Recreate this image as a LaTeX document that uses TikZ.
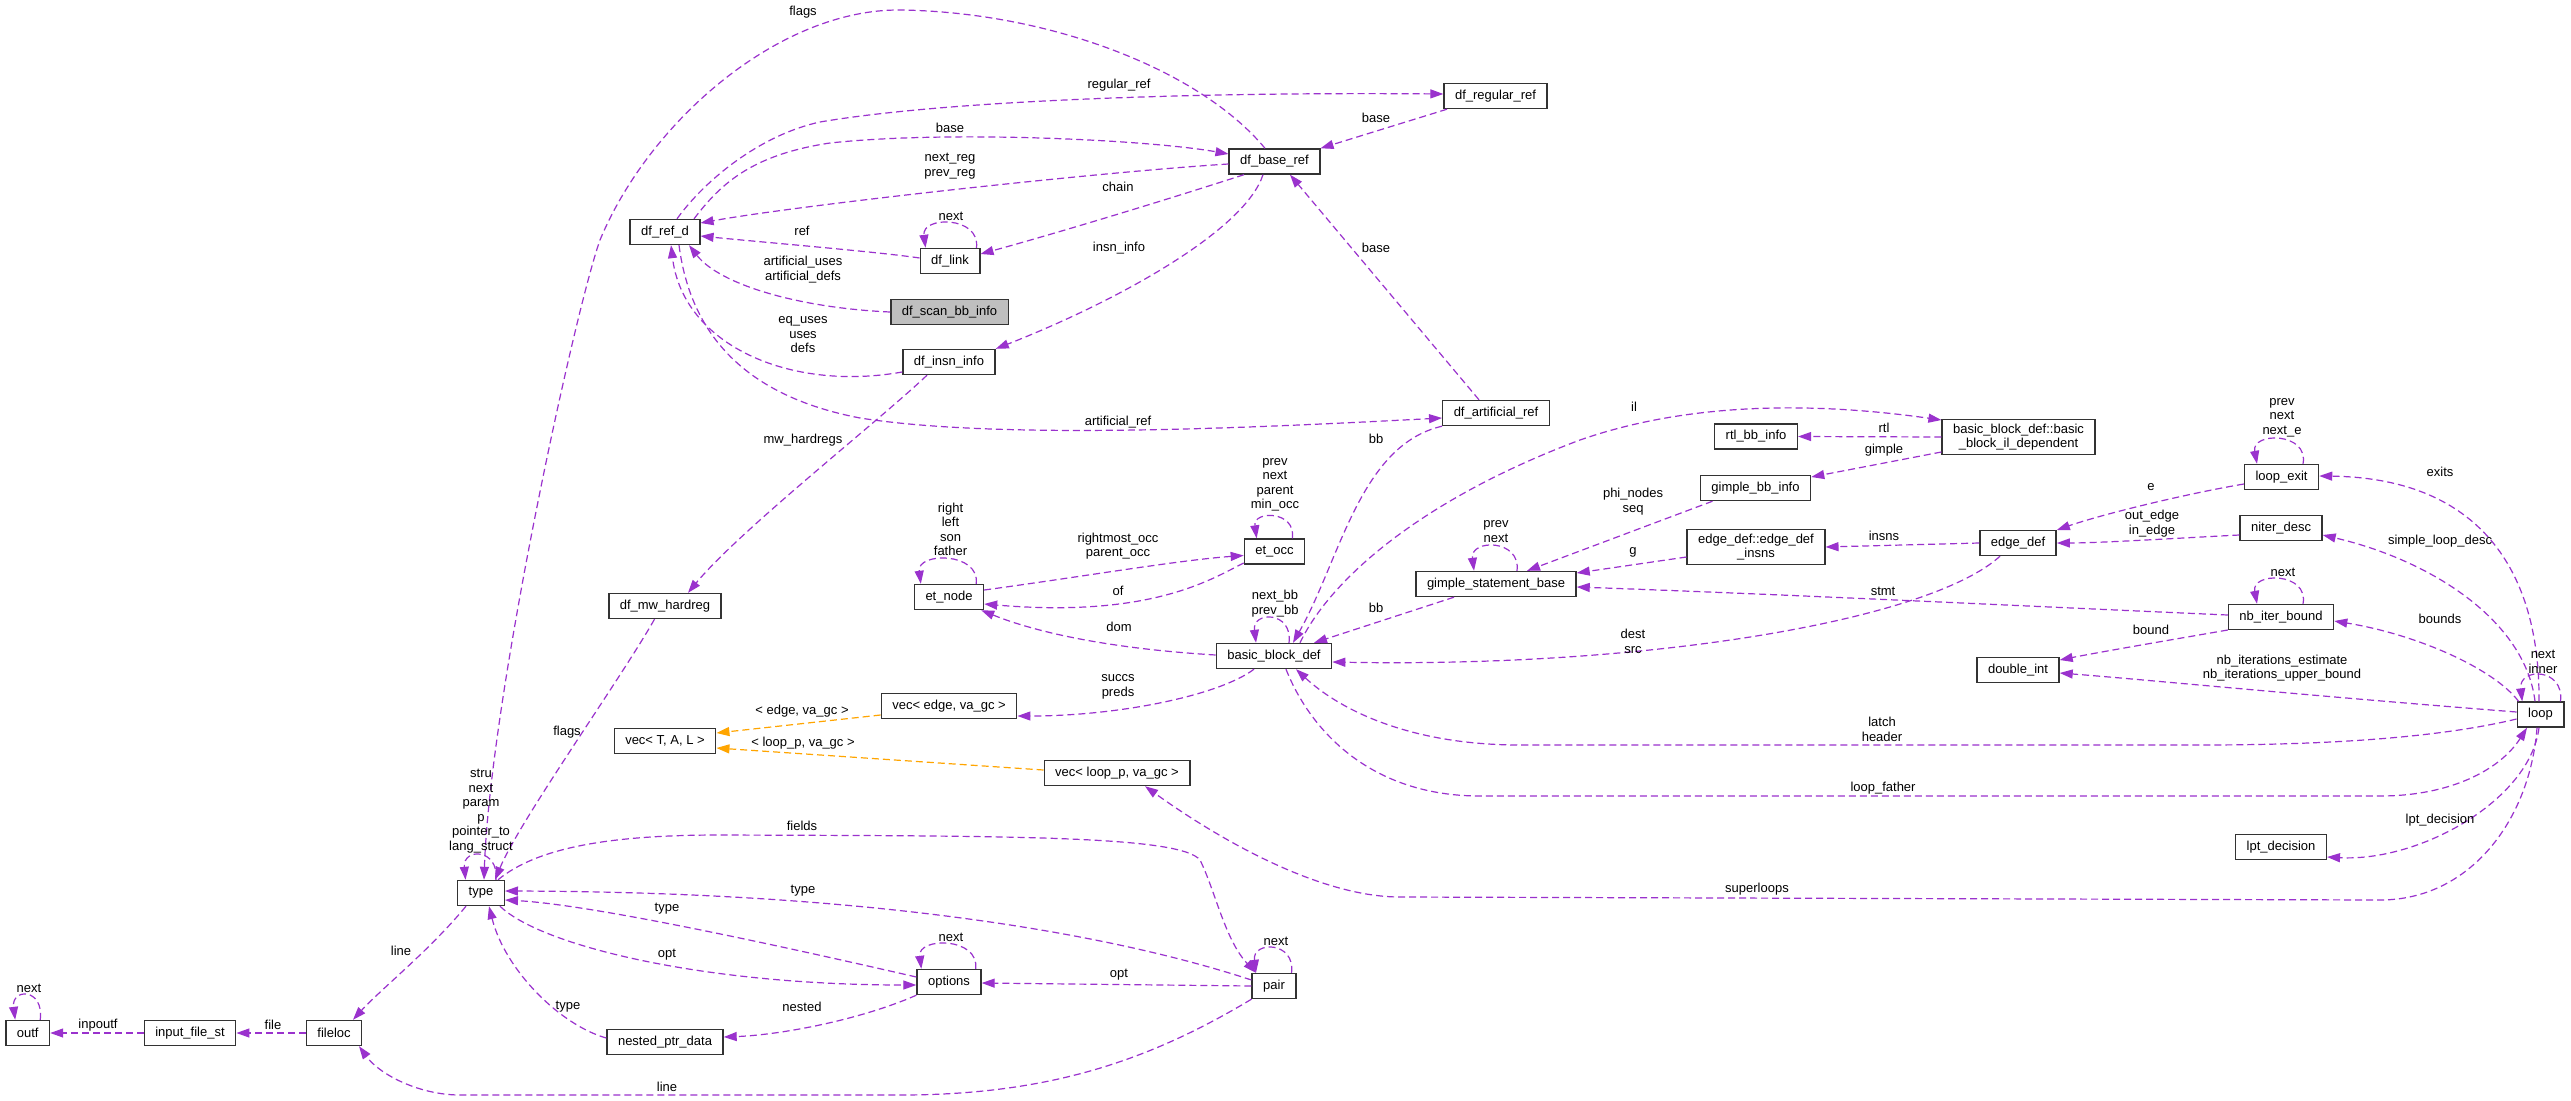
\documentclass[tikz,border=0pt]{standalone}
\usepackage{fontspec}
\setmainfont{Liberation Sans}
\usetikzlibrary{arrows.meta}
\definecolor{edgep}{HTML}{9A32CD}
\definecolor{edgeo}{HTML}{FFA500}
\definecolor{boxd}{HTML}{333333}
\definecolor{rootg}{HTML}{BFBFBF}
\newcommand\lblfont{\fontsize{13}{14.5}\selectfont}
\begin{document}
\begin{tikzpicture}[x=1pt,y=-1pt,
 box/.style={draw=boxd,line width=1.4pt,fill=white,font=\lblfont,inner xsep=11pt,inner ysep=4pt,minimum height=25pt,align=center},
 root/.style={box,fill=rootg},
 lab/.style={font=\lblfont,inner sep=0pt,align=center},
 ed/.style={draw=edgep,line width=1.2pt,dash pattern=on 7pt off 4pt,-{Triangle[length=13pt,width=9pt]}},
 edo/.style={ed,draw=edgeo}]
\fill[white] (0,0) rectangle (2571,1100);
\useasboundingbox (0,0) rectangle (2571,1100);
% nodes
\node[root] (dfscan) at (949.5,312) {df\_scan\_bb\_info};
\node[box] (dfref) at (665,232) {df\_ref\_d};
\node[box] (dflink) at (950,261) {df\_link};
\node[box] (dfbase) at (1274.5,161.5) {df\_base\_ref};
\node[box] (dfregular) at (1495.5,96) {df\_regular\_ref};
\node[box] (dfinsn) at (949,362) {df\_insn\_info};
\node[box] (dfart) at (1496,413) {df\_artificial\_ref};
\node[box] (mwhard) at (665,606) {df\_mw\_hardreg};
\node[box] (etnode) at (949,597) {et\_node};
\node[box] (etocc) at (1274.5,551.5) {et\_occ};
\node[box] (bbdef) at (1274,656) {basic\_block\_def};
\node[box] (vecedge) at (949,706) {vec< edge, va\_gc >};
\node[box] (vectal) at (665,741) {vec< T, A, L >};
\node[box] (vecloop) at (1117,773) {vec< loop\_p, va\_gc >};
\node[box] (type) at (481,893) {type};
\node[box] (outf) at (27.7,1033) {outf};
\node[box] (inputfile) at (190,1033) {input\_file\_st};
\node[box] (fileloc) at (334,1033) {fileloc};
\node[box] (nested) at (665,1042) {nested\_ptr\_data};
\node[box] (options) at (949,982) {options};
\node[box] (pair) at (1274,986) {pair};
\node[box] (gsb) at (1496,584) {gimple\_statement\_base};
\node[box] (rtlbb) at (1756,436.5) {rtl\_bb\_info};
\node[box] (ildep) at (2018.5,437) {basic\_block\_def::basic\\\_block\_il\_dependent};
\node[box] (gimplebb) at (1755.5,488) {gimple\_bb\_info};
\node[box] (edgeinsns) at (1756,547) {edge\_def::edge\_def\\\_insns};
\node[box] (edgedef) at (2018,543) {edge\_def};
\node[box] (doubleint) at (2018,670) {double\_int};
\node[box] (loopexit) at (2281.5,477) {loop\_exit};
\node[box] (niter) at (2281,528) {niter\_desc};
\node[box] (nbiter) at (2281,617) {nb\_iter\_bound};
\node[box] (loop) at (2540.5,714.5) {loop};
\node[box] (lpt) at (2281,847) {lpt\_decision};
% edges
\draw[ed] (dfscan.west) .. controls (800,308) and (720,285) .. ([xshift=24pt]dfref.south);
\draw[ed] ([yshift=-10pt]dfinsn.west) .. controls (790,392) and (683,345) .. ([xshift=6pt]dfref.south);
\draw[ed] ([xshift=14pt]dfref.south) .. controls (690,330) and (740,395) .. (860,418) .. controls (1000,440) and (1250,428) .. ([yshift=-5pt]dfart.west);
\draw[ed] ([yshift=3pt]dflink.west) .. controls (880,252) and (760,242) .. ([yshift=-4pt]dfref.east);
\draw[ed] ([yshift=-2.5pt]dfbase.west) .. controls (1100,172) and (800,205) .. ([yshift=9pt]dfref.east);
\draw[ed] ([xshift=29pt]dfref.north) .. controls (720,185) and (750,155) .. (830,143) .. controls (950,130) and (1150,140) .. ([yshift=7.5pt]dfbase.west);
\draw[ed] ([xshift=12pt]dfref.north) .. controls (705,180) and (760,135) .. (820,122) .. controls (950,100) and (1200,92) .. ([yshift=2pt]dfregular.west);
\draw[ed] ([xshift=-48.5pt]dfregular.south) -- (dfbase.north east);
\draw[ed] ([xshift=-9.5pt]dfbase.north) .. controls (1200,70) and (1050,12) .. (900,10) .. controls (780,9) and (650,120) .. (600,240) .. controls (575,310) and (490,700) .. ([xshift=3pt]type.north);
\draw[ed] ([xshift=-10.5pt]mwhard.south) .. controls (620,680) and (520,820) .. ([xshift=14pt]type.north);
\draw[ed] ([xshift=-22pt]dfinsn.south) .. controls (880,420) and (740,530) .. ([xshift=23pt]mwhard.north);
\draw[ed] ([xshift=-30.5pt]dfbase.south) .. controls (1150,205) and (1050,235) .. ([yshift=7pt]dflink.east);
\draw[ed] ([xshift=-11.5pt]dfbase.south) .. controls (1245,230) and (1120,300) .. (dfinsn.north east);
\draw[ed] ([xshift=-17pt]dfart.north) -- ([xshift=15.5pt]dfbase.south);
\draw[ed] (dfart.south west) .. controls (1360,445) and (1340,560) .. ([xshift=19pt]bbdef.north);
\draw[ed] ([xshift=26pt]bbdef.north) .. controls (1330,580) and (1420,500) .. (1580,440) .. controls (1680,405) and (1800,400) .. ([yshift=17pt]ildep.west);
\draw[ed] (ildep.west) -- (rtlbb.east);
\draw[ed] ([yshift=-15pt]ildep.west) -- ([yshift=11pt]gimplebb.east);
\draw[ed] ([xshift=-43pt]gimplebb.south) -- ([xshift=31pt]gsb.north);
\draw[ed] ([yshift=-10pt]edgeinsns.west) -- ([yshift=11pt]gsb.east);
\draw[ed] ([xshift=-42pt]gsb.south) -- ([xshift=40pt]bbdef.north);
\draw[ed] (edgedef.west) -- (edgeinsns.east);
\draw[ed] ([xshift=-18pt]edgedef.south) .. controls (1930,620) and (1650,668) .. ([yshift=-6pt]bbdef.east);
\draw[ed] ([yshift=-7pt]loopexit.west) .. controls (2180,495) and (2100,515) .. ([yshift=13pt]edgedef.east);
\draw[ed] ([yshift=-7pt]niter.west) .. controls (2180,538) and (2100,543) .. (edgedef.east);
\draw[ed] ([yshift=-13pt]nbiter.west) .. controls (2170,640) and (2100,652) .. ([yshift=10pt]doubleint.east);
\draw[ed] ([yshift=2pt]nbiter.west) .. controls (2000,605) and (1800,595) .. ([yshift=-3pt]gsb.east);
\draw[ed] ([yshift=2.5pt]loop.west) .. controls (2300,695) and (2150,680) .. ([yshift=-3pt]doubleint.east);
\draw[ed] ([yshift=-4.5pt]loop.west) .. controls (2450,735) and (2350,745) .. (2200,745) -- (1520,745) .. controls (1410,745) and (1340,710) .. ([xshift=22pt]bbdef.south);
\draw[ed] ([xshift=12pt]bbdef.south) .. controls (1310,730) and (1370,796) .. (1480,796) -- (2380,796) .. controls (2450,796) and (2500,770) .. ([xshift=-13.5pt]loop.south);
\draw[ed] ([xshift=-3.5pt]loop.south) .. controls (2530,820) and (2470,900) .. (2380,900) -- (1400,897) .. controls (1320,897) and (1220,840) .. ([xshift=28pt]vecloop.south);
\draw[ed] ([xshift=2pt]loop.north west) .. controls (2495,670) and (2420,635) .. ([yshift=-4pt]nbiter.east);
\draw[ed] ([xshift=-5.5pt]loop.north) .. controls (2525,620) and (2430,560) .. ([yshift=-7pt]niter.east);
\draw[ed] ([xshift=-1.5pt]loop.north) .. controls (2540,560) and (2470,478) .. ([yshift=1pt]loopexit.east);
\draw[ed] ([xshift=-1.5pt]loop.south) .. controls (2530,800) and (2420,862) .. ([yshift=-10pt]lpt.east);
\draw[edo] ([yshift=-9pt]vecedge.west) -- ([yshift=8pt]vectal.east);
\draw[edo] ([yshift=3pt]vecloop.west) -- ([yshift=-7pt]vectal.east);
\draw[ed] ([xshift=-20pt]bbdef.south) .. controls (1220,695) and (1120,716) .. ([yshift=-10pt]vecedge.east);
\draw[ed] ([yshift=1pt]bbdef.west) .. controls (1100,648) and (1030,630) .. ([xshift=-3pt]etnode.south east);
\draw[ed] ([yshift=-11.5pt]etocc.west) .. controls (1210,580) and (1150,618) .. ([yshift=-7pt]etnode.east);
\draw[ed] ([yshift=7pt]etnode.east) .. controls (1080,577) and (1180,560) .. ([yshift=-4pt]etocc.west);
\draw[ed] ([xshift=17pt]type.north) .. controls (540,845) and (620,835) .. (720,835) .. controls (1000,836) and (1180,835) .. (1200,860) .. controls (1215,890) and (1225,940) .. ([xshift=-18pt]pair.north);
\draw[ed] ([yshift=6pt]pair.west) .. controls (1130,940) and (900,892) .. ([yshift=2pt]type.east);
\draw[ed] ([yshift=5pt]options.west) .. controls (820,955) and (600,905) .. ([yshift=-7pt]type.east);
\draw[ed] ([xshift=19pt]type.south) .. controls (540,945) and (700,985) .. ([yshift=-3pt]options.west);
\draw[ed] (pair.west) -- ([yshift=-1pt]options.east);
\draw[ed] (options.south west) .. controls (860,1020) and (780,1035) .. ([yshift=5pt]nested.east);
\draw[ed] ([yshift=4pt]nested.west) .. controls (560,1025) and (505,970) .. ([xshift=8pt]type.south);
\draw[ed] ([xshift=-15pt]type.south) .. controls (430,950) and (380,990) .. ([xshift=19pt]fileloc.north);
\draw[ed] (pair.south west) .. controls (1150,1060) and (1050,1095) .. (900,1095) -- (460,1095) .. controls (420,1095) and (380,1075) .. ([xshift=25pt]fileloc.south);
\draw[ed] (fileloc.west) -- (inputfile.east);
\draw[ed] (inputfile.west) -- (outf.east);
% self loops
\draw[ed] ([xshift=-10pt]outf.north east) .. controls +(4,-32) and +(-4,-32) .. ([xshift=10pt]outf.north west);
\draw[ed] ([xshift=-9pt]type.north east) .. controls +(3,-32) and +(-3,-32) .. ([xshift=8.5pt]type.north west);
\draw[ed] ([xshift=-4pt]dflink.north east) .. controls +(4,-32) and +(-4,-32) .. ([xshift=6pt]dflink.north west);
\draw[ed] ([xshift=-8pt]etnode.north east) .. controls +(4,-32) and +(-4,-32) .. ([xshift=7pt]etnode.north west);
\draw[ed] ([xshift=-13pt]etocc.north east) .. controls +(4,-28) and +(-4,-28) .. ([xshift=13pt]etocc.north west);
\draw[ed] ([xshift=15pt]bbdef.north) .. controls +(4,-32) and +(-4,-32) .. ([xshift=-18pt]bbdef.north);
\draw[ed] ([xshift=21pt]gsb.north) .. controls +(4,-32) and +(-4,-32) .. ([xshift=-22pt]gsb.north);
\draw[ed] ([xshift=-6pt]options.north east) .. controls +(4,-32) and +(-4,-32) .. ([xshift=5pt]options.north west);
\draw[ed] ([xshift=-5pt]pair.north east) .. controls +(4,-32) and +(-4,-32) .. ([xshift=4.5pt]pair.north west);
\draw[ed] ([xshift=21.5pt]loopexit.north) .. controls +(6,-32) and +(-6,-32) .. ([xshift=-24.5pt]loopexit.north);
\draw[ed] ([xshift=22pt]nbiter.north) .. controls +(6,-32) and +(-6,-32) .. ([xshift=-24pt]nbiter.north);
\draw[ed] ([xshift=-4pt]loop.north east) .. controls +(4,-34) and +(-4,-34) .. ([xshift=5.7pt]loop.north west);
% labels
\node[lab] (l1) at (803,12) {flags};
\node[lab] (l2) at (1119,85) {regular\_ref};
\node[lab] (l3) at (950,128) {base};
\node[lab] (l4) at (950,166) {next\_reg\\prev\_reg};
\node[lab] (l5) at (1118,187) {chain};
\node[lab] (l6) at (802,231) {ref};
\node[lab] (l7) at (951,216) {next};
\node[lab] (l8) at (803,269.5) {artificial\_uses\\artificial\_defs};
\node[lab] (l9) at (1376,118) {base};
\node[lab] (l10) at (1119,248) {insn\_info};
\node[lab] (l11) at (1376,248) {base};
\node[lab] (l12) at (803,335) {eq\_uses\\uses\\defs};
\node[lab] (l13) at (803,440) {mw\_hardregs};
\node[lab] (l14) at (1118,422) {artificial\_ref};
\node[lab] (l15) at (1376,439) {bb};
\node[lab] (l16) at (1275,485) {prev\\next\\parent\\min\_occ};
\node[lab] (l17) at (1634,407) {il};
\node[lab] (l18) at (1884,428) {rtl};
\node[lab] (l19) at (1884,450) {gimple};
\node[lab] (l20) at (1633,501.5) {phi\_nodes\\seq};
\node[lab] (l21) at (1496,531.5) {prev\\next};
\node[lab] (l22) at (1633,552) {g};
\node[lab] (l23) at (1884,536) {insns};
\node[lab] (l24) at (1883,591) {stmt};
\node[lab] (l25) at (1633,641.5) {dest\\src};
\node[lab] (l26) at (950.5,529.5) {right\\left\\son\\father};
\node[lab] (l27) at (1118,546) {rightmost\_occ\\parent\_occ};
\node[lab] (l28) at (1118,591) {of};
\node[lab] (l29) at (1119,627) {dom};
\node[lab] (l30) at (1275,603.5) {next\_bb\\prev\_bb};
\node[lab] (l31) at (1376,608) {bb};
\node[lab] (l32) at (1118,687) {succs\\preds};
\node[lab] (l33) at (802,711) {< edge, va\_gc >};
\node[lab] (l34) at (803,743) {< loop\_p, va\_gc >};
\node[lab] (l35) at (567,732) {flags};
\node[lab] (l36) at (481,811) {stru\\next\\param\\p\\pointer\_to\\lang\_struct};
\node[lab] (l37) at (1882,729.5) {latch\\header};
\node[lab] (l38) at (1883,788) {loop\_father};
\node[lab] (l39) at (1757,889) {superloops};
\node[lab] (l40) at (802,826) {fields};
\node[lab] (l41) at (803,891) {type};
\node[lab] (l42) at (667,909) {type};
\node[lab] (l43) at (667,955) {opt};
\node[lab] (l44) at (951,937) {next};
\node[lab] (l45) at (1276,941) {next};
\node[lab] (l46) at (1119,975) {opt};
\node[lab] (l47) at (802,1007) {nested};
\node[lab] (l48) at (568,1007) {type};
\node[lab] (l49) at (401,951) {line};
\node[lab] (l50) at (667,1087) {line};
\node[lab] (l51) at (29,988) {next};
\node[lab] (l52) at (98,1025) {inpoutf};
\node[lab] (l53) at (273,1025) {file};
\node[lab] (l54) at (2282,417.5) {prev\\next\\next\_e};
\node[lab] (l55) at (2440,472) {exits};
\node[lab] (l56) at (2151,487) {e};
\node[lab] (l57) at (2152,523.5) {out\_edge\\in\_edge};
\node[lab] (l58) at (2440,541) {simple\_loop\_desc};
\node[lab] (l59) at (2283,572) {next};
\node[lab] (l60) at (2440,619) {bounds};
\node[lab] (l61) at (2151,630) {bound};
\node[lab] (l62) at (2282,668) {nb\_iterations\_estimate\\nb\_iterations\_upper\_bound};
\node[lab] (l63) at (2543,662) {next\\inner};
\node[lab] (l64) at (2440,820.5) {lpt\_decision};
\end{tikzpicture}
\end{document}
